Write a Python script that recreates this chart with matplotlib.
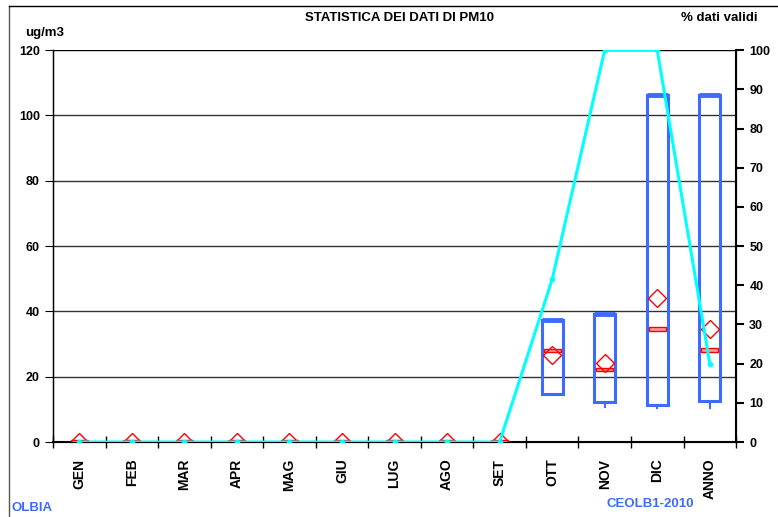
import numpy as np
import matplotlib.pyplot as plt
from matplotlib.patches import Rectangle
from matplotlib.lines import Line2D

plt.rcParams['font.family'] = ['Liberation Sans', 'DejaVu Sans']
plt.rcParams['font.weight'] = 'bold'

# Data
months = ['GEN', 'FEB', 'MAR', 'APR', 'MAG', 'GIU', 'LUG', 'AGO', 'SET',
          'OTT', 'NOV', 'DIC', 'ANNO']
box_low = [0, 0, 0, 0, 0, 0, 0, 0, 0, 14.6, 12.3, 11.2, 12.6]
box_high = [0, 0, 0, 0, 0, 0, 0, 0, 0, 37.3, 39.2, 106.2, 106.2]
minimum = [0, 0, 0, 0, 0, 0, 0, 0, 0, 14.6, 10.7, 10.4, 10.4]
median = [0, 0, 0, 0, 0, 0, 0, 0, 0, 28.1, 22.2, 34.6, 28.2]
mean = [0, 0, 0, 0, 0, 0, 0, 0, 0, 26.6, 24.3, 44.0, 34.5]
valid = [0, 0, 0, 0, 0, 0, 0, 0, 0, 41.5, 100, 100, 20]

blue = '#3d6bff'
x = np.arange(len(months))

fig = plt.figure(figsize=(7.78, 5.17), dpi=100)
ax = fig.add_axes([0.0681, 0.145, 0.878, 0.758])

# grid lines
for g in range(20, 121, 20):
    ax.axhline(g, color='#333333' if g < 120 else 'black', lw=1, zorder=0)

# boxes
bw = 0.4
for i in x:
    if box_high[i] > box_low[i]:
        ax.add_patch(Rectangle((i - bw / 2, box_low[i]), bw, box_high[i] - box_low[i],
                               fill=False, ec=blue, lw=2.2, zorder=2))
        ax.plot([i - bw / 2, i + bw / 2], [box_high[i], box_high[i]], color=blue,
                lw=3.5, solid_capstyle='butt', zorder=2)
        if minimum[i] < box_low[i]:
            ax.plot([i, i], [minimum[i], box_low[i]], color=blue, lw=1.5, zorder=2)
    # median
    ax.add_patch(Rectangle((i - 0.16, median[i] - 0.5), 0.32, 1.0,
                           fc='#ff9c9c', ec='red', lw=1, zorder=3))
ax.plot(x, mean, 'D', ms=9, mfc='none', mec='red', mew=1, ls='none', zorder=4)

ax.set_xlim(-0.5, len(months) - 0.5)
ax.set_ylim(0, 120)
ax.set_yticks(range(0, 121, 20))
ax.set_xticks(x)
ax.set_xticklabels(months, rotation=90, fontsize=10, fontweight='bold')
ax.set_xticks(np.arange(-0.5, len(months), 1), minor=True)
ax.tick_params(axis='x', which='major', length=0, pad=12)
ax.tick_params(axis='x', which='minor', length=8, direction='inout', width=1)
ax.tick_params(axis='y', labelsize=9, length=6, direction='out')
for lab in ax.get_yticklabels():
    lab.set_fontweight('bold')
ax.spines['top'].set_visible(False)
ax.spines['left'].set_linewidth(1)
ax.spines['bottom'].set_linewidth(1.5)

ax2 = ax.twinx()
ax2.plot(x, valid, color='#00ffff', lw=2.2, marker='o', ms=3, zorder=5)
ax2.set_ylim(0, 100)
ax2.set_yticks(range(0, 101, 10))
ax2.tick_params(axis='y', labelsize=9, length=6, direction='out', width=1.5)
for lab in ax2.get_yticklabels():
    lab.set_fontweight('bold')
ax2.spines['top'].set_visible(False)
ax2.spines['right'].set_linewidth(1.5)

fig.text(0.514, 0.965, 'STATISTICA DEI DATI DI PM10', ha='center', va='center', fontsize=9.5, fontweight='bold')
fig.text(0.058, 0.936, 'ug/m3', ha='center', va='center', fontsize=9.5, fontweight='bold')
fig.text(0.925, 0.965, '% dati validi', ha='center', va='center', fontsize=9.5, fontweight='bold')
fig.text(0.015, 0.017, 'OLBIA', ha='left', va='center', fontsize=9.5, fontweight='bold', color=blue)
fig.text(0.836, 0.025, 'CEOLB1-2010', ha='center', va='center', fontsize=9.5, fontweight='bold', color=blue)

# outer frame (left and top edges)
fig.add_artist(Line2D([0.011, 0.011], [0.0, 0.988], color='#555555', lw=1))
fig.add_artist(Line2D([0.011, 1.0], [0.988, 0.988], color='black', lw=1))

fig.savefig('out.png', dpi=100)
